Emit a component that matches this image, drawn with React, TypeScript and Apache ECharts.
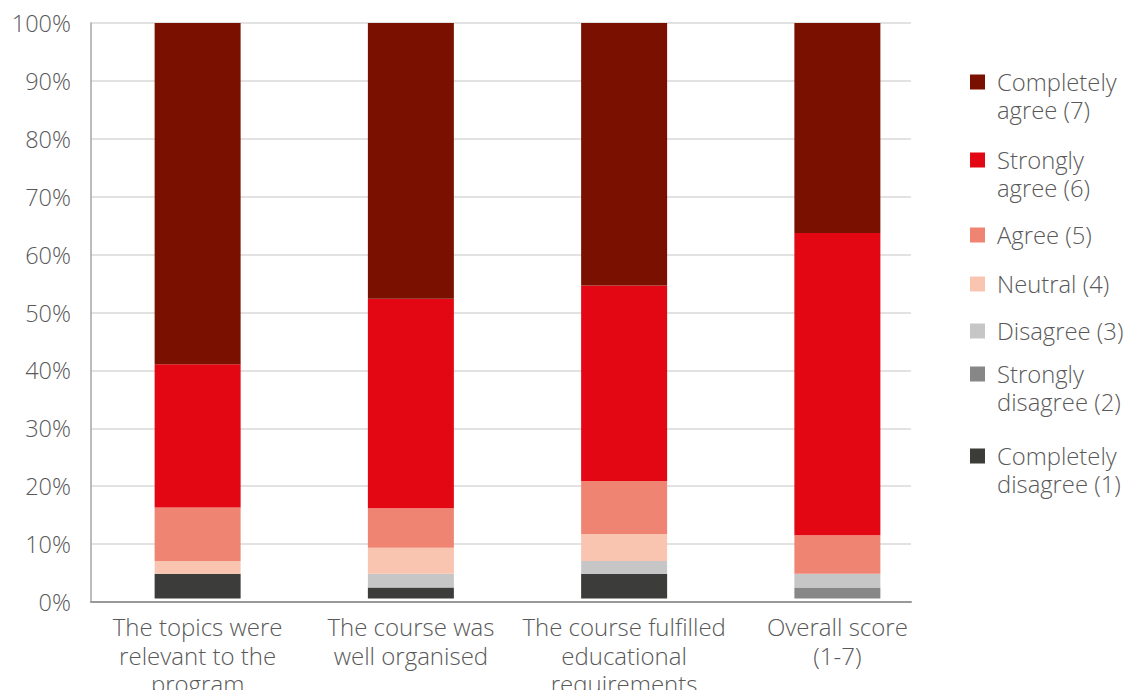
import React, { useEffect, useRef } from "react";
import * as echarts from "echarts";

const categories = [
  "The topics were\nrelevant to the\nprogram",
  "The course was\nwell organised",
  "The course fulfilled\neducational\nrequirements",
  "Overall score\n(1-7)",
];
const seriesNames = [
  "Completely\ndisagree (1)",
  "Strongly\ndisagree (2)",
  "Disagree (3)",
  "Neutral (4)",
  "Agree (5)",
  "Strongly\nagree (6)",
  "Completely\nagree (7)",
];
const completelyDisagree = [4.3, 1.9, 4.3, 0];
const stronglyDisagree = [0, 0, 0, 1.9];
const disagree = [0, 2.4, 2.2, 2.4];
const neutral = [2.2, 4.5, 4.7, 0];
const agree = [9.3, 6.9, 9.2, 6.7];
const stronglyAgree = [24.9, 36.4, 34.0, 52.5];
const completelyAgree = [59.3, 47.9, 45.6, 36.5];
const yTicks = [0, 10, 20, 30, 40, 50, 60, 70, 80, 90, 100];

const colors = ["#3c3c3b", "#878787", "#c6c6c6", "#f9c5b0", "#f08473", "#e30613", "#7a1000"];
const allData = [completelyDisagree, stronglyDisagree, disagree, neutral, agree, stronglyAgree, completelyAgree];
// icon centre y for each legend entry (index matches seriesNames)
const legendIconY = [456, 374, 331, 284, 235, 160, 82];

const FONT = "'Open Sans', sans-serif";
const TEXT = "#595959";

export default function App() {
  const ref = useRef<HTMLDivElement>(null);
  useEffect(() => {
    const chart = echarts.init(ref.current!, null, { renderer: "svg" });
    const legends = seriesNames.map((name, i) => {
      const twoLine = name.includes("\n");
      return {
        orient: "vertical",
        left: 970,
        top: legendIconY[i] - 14,
        padding: 0,
        itemWidth: 15,
        itemHeight: twoLine ? 43 : 15,
        icon: twoLine ? "path://M0,0h15v15h-15zM0,43h15" : "rect",
        data: [name],
        textStyle: {
          fontFamily: FONT,
          fontWeight: 300,
          fontSize: 23.8,
          lineHeight: 28,
          color: TEXT,
          padding: [0, 0, 0, 7],
        },
      };
    });
    chart.setOption({
      animation: false,
      textStyle: { fontFamily: FONT },
      grid: [
        { left: 91, right: 222, top: 23, bottom: 96 },
        { left: 91, right: 189, top: 23, bottom: 96 },
      ],
      legend: legends,
      xAxis: [
        {
          type: "category",
          gridIndex: 0,
          data: categories,
          axisLine: { lineStyle: { color: "#999999", width: 2 } },
          axisTick: { show: false },
          axisLabel: { show: false },
        },
        {
          type: "category",
          gridIndex: 1,
          data: categories,
          axisLine: { show: false },
          axisTick: { show: false },
          axisLabel: {
            fontFamily: FONT,
            fontWeight: 300,
            fontSize: 24,
            lineHeight: 28.5,
            color: TEXT,
            margin: 14,
            interval: 0,
          },
        },
      ],
      yAxis: [
        {
          type: "value",
          gridIndex: 0,
          min: 0,
          max: 100,
          interval: 10,
          axisLine: { show: true, lineStyle: { color: "#a6a6a6", width: 1.5 } },
          axisTick: { show: false },
          splitLine: { lineStyle: { color: "#d9d9d9", width: 1.5 } },
          axisLabel: {
            fontFamily: FONT,
            fontWeight: 300,
            fontSize: 23.5,
            color: TEXT,
            margin: 20,
            formatter: (v: number) => (yTicks.includes(v) ? v + "%" : ""),
          },
        },
        {
          type: "value",
          gridIndex: 1,
          min: 0,
          max: 100,
          show: false,
        },
      ],
      series: seriesNames.map((name, i) => ({
        name,
        type: "bar",
        stack: "total",
        xAxisIndex: 1,
        yAxisIndex: 1,
        barWidth: 86,
        data: allData[i],
        itemStyle: { color: colors[i] },
      })),
    });
    return () => chart.dispose();
  }, []);
  return <div ref={ref} style={{ width: 1133, height: 698, margin: -8 }} />;
}
